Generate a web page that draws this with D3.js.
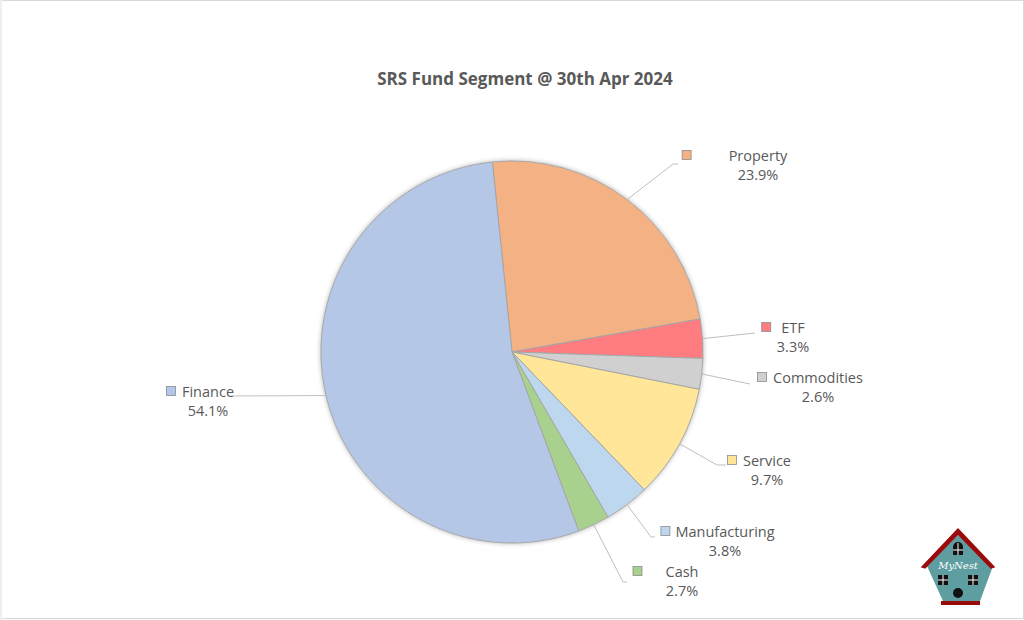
<!DOCTYPE html>
<html>
<head>
<meta charset="utf-8">
<script src="https://cdn.jsdelivr.net/npm/d3@7"></script>
<style>
  body { margin: 0; background: #fff; }
  svg { display: block; }
</style>
</head>
<body>
<svg id="chart"></svg>
<script>
// data
const categories = ["Property", "ETF", "Commodities", "Service", "Manufacturing", "Cash", "Finance"];
const shares = [23.9, 3.3, 2.6, 9.7, 3.8, 2.7, 54.1];
const colours = ["#F4B183", "#FF7C80", "#D0D0D0", "#FFE699", "#BDD7EE", "#A9D18E", "#B4C7E7"];

// label placement (name centre x, name baseline y, gap to key, leader end points)
const labelLayout = [
  { x: 758, y: 161, gap: 37, end: [[673, 164], [678, 164]] },
  { x: 793, y: 333, gap: 10, end: [[755, 333]] },
  { x: 818, y: 383, gap: 6, end: [[750, 384]] },
  { x: 767, y: 466, gap: 6, end: [[717, 465], [726, 465]] },
  { x: 725, y: 537, gap: 5, end: [[651, 537], [655, 537]] },
  { x: 682, y: 577, gap: 23, end: [[623, 582], [627, 582]] },
  { x: 208, y: 397, gap: 6, end: [[233, 396]] }
];

let width = 1024;
let height = 620;
let cx = 512;
let cy = 352;
let radius = 191;
let textColour = "#595959";

let svg = d3.select("#chart").attr("width", width).attr("height", height);

// frame
svg.append("rect")
  .attr("x", 0.5).attr("y", 0.5)
  .attr("width", width - 1).attr("height", height - 2)
  .attr("fill", "#fff")
  .attr("stroke", "#d9d9d9");
svg.append("rect").attr("x", 0).attr("y", 0).attr("width", 2).attr("height", height).attr("fill", "#eeeeee");

let defs = svg.append("defs");
defs.append("filter").attr("id", "shadow")
  .attr("x", "-10%").attr("y", "-10%").attr("width", "120%").attr("height", "120%")
  .append("feDropShadow")
  .attr("dx", 0).attr("dy", 0).attr("stdDeviation", 2.5)
  .attr("flood-color", "#000").attr("flood-opacity", 0.35);

svg.append("text")
  .attr("x", 525).attr("y", 85)
  .attr("text-anchor", "middle")
  .attr("font-family", "Open Sans, sans-serif")
  .attr("font-weight", "bold")
  .attr("font-size", 17)
  .attr("fill", textColour)
  .text("SRS Fund Segment @ 30th Apr 2024");

let colour = d3.scaleOrdinal().domain(categories).range(colours);

let startOffset = -5.9 * Math.PI / 180;
let pie = d3.pie()
  .sort(null)
  .value((d, i) => shares[i])
  .startAngle(startOffset)
  .endAngle(startOffset + 2 * Math.PI);

let arcs = pie(categories);
let arc = d3.arc().innerRadius(0).outerRadius(radius);

let g = svg.append("g").attr("transform", `translate(${cx},${cy})`);

g.append("circle").attr("r", radius).attr("fill", "#fff").attr("filter", "url(#shadow)");

g.selectAll("path.slice")
  .data(arcs)
  .enter()
  .append("path")
  .attr("class", "slice")
  .attr("d", arc)
  .attr("fill", (d) => colour(d.data))
  .attr("stroke", "#a6a6a6")
  .attr("stroke-width", 1)
  .attr("stroke-linejoin", "round");

// leader lines
let edge = d3.arc().innerRadius(radius).outerRadius(radius);
svg.selectAll("polyline.leader")
  .data(arcs)
  .enter()
  .append("polyline")
  .attr("class", "leader")
  .attr("points", function (d, i) {
    let c = edge.centroid(d);
    let pts = [[cx + c[0], cy + c[1]]].concat(labelLayout[i].end);
    return pts.map((p) => p.join(",")).join(" ");
  })
  .attr("fill", "none")
  .attr("stroke", "#bfbfbf")
  .attr("stroke-width", 1);

// labels
let labels = svg.selectAll("g.label")
  .data(arcs)
  .enter()
  .append("g")
  .attr("class", "label")
  .attr("font-family", "Open Sans, sans-serif")
  .attr("font-size", 14.5)
  .attr("fill", textColour);

labels.append("text")
  .attr("class", "name")
  .attr("x", (d, i) => labelLayout[i].x)
  .attr("y", (d, i) => labelLayout[i].y)
  .attr("text-anchor", "middle")
  .text((d) => d.data);

labels.append("text")
  .attr("x", (d, i) => labelLayout[i].x)
  .attr("y", (d, i) => labelLayout[i].y + 19)
  .attr("text-anchor", "middle")
  .text((d, i) => shares[i].toFixed(1) + "%");

labels.each(function (d, i) {
  let sel = d3.select(this);
  let w = sel.select("text.name").node().getComputedTextLength();
  let lay = labelLayout[i];
  sel.append("rect")
    .attr("x", lay.x - w / 2 - lay.gap - 9.5)
    .attr("y", lay.y - 10.5)
    .attr("width", 9)
    .attr("height", 9)
    .attr("fill", colour(d.data))
    .attr("stroke", "#8c8c8c")
    .attr("stroke-width", 0.8);
});

// logo
let logo = svg.append("g").attr("transform", "translate(958,566)");
logo.append("path")
  .attr("d", "M0,-31 L-31,0 L-15,35 L22,35 L35,0 Z")
  .attr("fill", "#5f9ea0");
logo.append("path")
  .attr("d", "M-36,1 L0,-37 L36,1 L33,2 L0,-32 L-33,2 Z")
  .attr("fill", "#9b0a0a")
  .attr("stroke", "#9b0a0a")
  .attr("stroke-width", 1.5);
logo.append("rect").attr("x", -17).attr("y", 35).attr("width", 39).attr("height", 4).attr("fill", "#9b0a0a");
function windowAt(x, y, arched) {
  let w = logo.append("g").attr("transform", `translate(${x},${y})`);
  if (arched) {
    w.append("path").attr("d", "M-5,6 L-5,-2 A5,5 0 0 1 5,-2 L5,6 Z").attr("fill", "#111");
  } else {
    w.append("rect").attr("x", -5).attr("y", -5).attr("width", 10).attr("height", 10).attr("fill", "#111");
  }
  w.append("line").attr("x1", 0).attr("x2", 0).attr("y1", arched ? -6 : -5).attr("y2", arched ? 6 : 5).attr("stroke", "#fff").attr("stroke-width", 1);
  w.append("line").attr("x1", -5).attr("x2", 5).attr("y1", arched ? 1 : 0).attr("y2", arched ? 1 : 0).attr("stroke", "#fff").attr("stroke-width", 1);
}
windowAt(0, -17, true);
windowAt(-15, 14, false);
windowAt(15, 14, false);
logo.append("circle").attr("cx", 0).attr("cy", 27).attr("r", 5).attr("fill", "#111");
logo.append("text")
  .attr("x", 0).attr("y", 3)
  .attr("text-anchor", "middle")
  .attr("font-family", "DejaVu Serif, serif")
  .attr("font-style", "italic")
  .attr("font-size", 10)
  .attr("fill", "#fff")
  .text("MyNest");
</script>
</body>
</html>
